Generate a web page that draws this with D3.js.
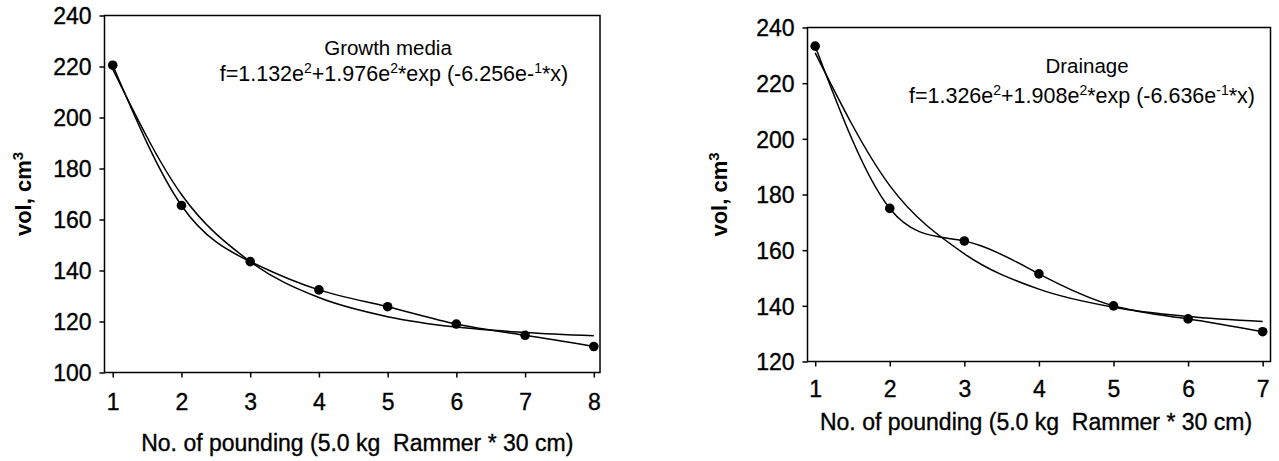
<!DOCTYPE html>
<html>
<head>
<meta charset="utf-8">
<script src="https://cdn.jsdelivr.net/npm/d3@7"></script>
<style>
  body { margin: 0; background: #fff; }
  text { font-family: "Liberation Sans", Arial, sans-serif; fill: #000; }
  .heavy { stroke: #000; stroke-width: 0.35px; }
</style>
</head>
<body>
<svg id="chart" width="1279" height="461"></svg>
<script>
// --- data ---
const poundingGrowth = [1, 2, 3, 4, 5, 6, 7, 8];
const volGrowth = [220.5, 165.5, 143.5, 132.4, 125.8, 119.0, 114.6, 110.2];
const fitGrowth = [219.0, 169.8, 143.5, 129.4, 121.9, 117.8, 115.7, 114.4];

const poundingDrainage = [1, 2, 3, 4, 5, 6, 7];
const volDrainage = [233.3, 175.0, 163.3, 151.5, 140.0, 135.3, 130.7];
const fitDrainage = [230.9, 183.2, 158.7, 146.0, 139.5, 136.2, 134.4];

const yTicksGrowth = [100, 120, 140, 160, 180, 200, 220, 240];
const yTicksDrainage = [120, 140, 160, 180, 200, 220, 240];

const xTitle = "No. of pounding (5.0 kg\u00a0 Rammer * 30 cm)";

const svg = d3.select("#chart");

// writes text pieces into a <text>, raising the {sup} pieces
function richText(sel, parts, supSize, lift) {
  let raised = false;
  parts.forEach(p => {
    const ts = sel.append("tspan");
    if (p.sup) {
      ts.attr("dy", raised ? 0 : -lift).style("font-size", supSize).text(p.sup);
      raised = true;
    } else {
      ts.attr("dy", raised ? lift : 0).text(p.t);
      raised = false;
    }
  });
}

function drawPanel(opts) {
  const { xs, vol, fit, yTicks, box, xDomain, label, formula } = opts;

  const x = d3.scaleLinear().domain(xDomain).range([box.left, box.right]);
  const y = d3.scaleLinear().domain([yTicks[0], yTicks[yTicks.length - 1]])
    .range([box.bottom, box.top]);

  const g = svg.append("g");

  // frame
  g.append("rect")
    .attr("x", box.left).attr("y", box.top)
    .attr("width", box.right - box.left).attr("height", box.bottom - box.top)
    .attr("fill", "none").attr("stroke", "#000").attr("stroke-width", 1.5);

  // y axis
  const yAxis = g.append("g")
    .attr("transform", `translate(${box.left},0)`)
    .call(d3.axisLeft(y).tickValues(yTicks).tickSize(5).tickPadding(8).tickFormat(d3.format("d")));
  yAxis.select(".domain").remove();
  yAxis.selectAll("line").attr("stroke-width", 1.5);
  yAxis.selectAll("text").attr("class", "heavy").style("font-size", "23px").attr("dy", "0.36em");

  // x axis
  const xAxis = g.append("g")
    .attr("transform", `translate(0,${box.bottom})`)
    .call(d3.axisBottom(x).tickValues(xs).tickSize(5).tickPadding(opts.xTickPad).tickFormat(d3.format("d")));
  xAxis.select(".domain").remove();
  xAxis.selectAll("line").attr("stroke-width", 1.5);
  xAxis.selectAll("text").attr("class", "heavy").style("font-size", "23px");

  // fitted exponential curve
  g.append("path")
    .datum(xs.map((d, i) => [d, fit[i]]))
    .attr("fill", "none").attr("stroke", "#000").attr("stroke-width", 1.5)
    .attr("d", d3.line().x(d => x(d[0])).y(d => y(d[1])).curve(d3.curveMonotoneX));

  // measured series, spline through the points
  g.append("path")
    .datum(xs.map((d, i) => [d, vol[i]]))
    .attr("fill", "none").attr("stroke", "#000").attr("stroke-width", 1.5)
    .attr("d", d3.line().x(d => x(d[0])).y(d => y(d[1])).curve(d3.curveNatural));

  g.selectAll("circle.pt")
    .data(xs.map((d, i) => [d, vol[i]]))
    .join("circle")
    .attr("class", "pt")
    .attr("cx", d => x(d[0])).attr("cy", d => y(d[1]))
    .attr("r", 4.8).attr("fill", "#000");

  // axis titles
  g.append("text")
    .attr("class", "heavy")
    .attr("x", (box.left + box.right) / 2 + opts.xTitleShift).attr("y", opts.xTitleY)
    .attr("text-anchor", "middle").style("font-size", "23px")
    .text(xTitle);

  const yt = g.append("text")
    .attr("transform", `translate(${opts.yTitleX},${(box.top + box.bottom) / 2}) rotate(-90)`)
    .attr("text-anchor", "middle").style("font-size", "22px").style("font-weight", "bold");
  richText(yt, [{ t: "vol, cm" }, { sup: "3" }], "15px", 8);

  // annotation
  g.append("text")
    .attr("x", label.x).attr("y", label.y)
    .attr("text-anchor", "middle").style("font-size", "20.5px")
    .text(label.text);

  const f = g.append("text")
    .attr("x", formula.x).attr("y", formula.y)
    .attr("text-anchor", "middle").style("font-size", "21.5px");
  richText(f, formula.parts, "14px", 8);
}

drawPanel({
  xs: poundingGrowth, vol: volGrowth, fit: fitGrowth, yTicks: yTicksGrowth,
  box: { left: 104.5, right: 600, top: 15.5, bottom: 372.5 },
  xDomain: [0.88, 8.09],
  xTickPad: 16, xTitleY: 451, xTitleShift: 5, yTitleX: 31,
  label: { text: "Growth media", x: 388, y: 55 },
  formula: { x: 394, y: 81, parts: [
    { t: "f=1.132e" }, { sup: "2" }, { t: "+1.976e" }, { sup: "2" },
    { t: "*exp (-6.256e-" }, { sup: "1" }, { t: "*x)" }
  ] }
});

drawPanel({
  xs: poundingDrainage, vol: volDrainage, fit: fitDrainage, yTicks: yTicksDrainage,
  box: { left: 807.5, right: 1270.5, top: 27.5, bottom: 361.5 },
  xDomain: [0.897, 7.105],
  xTickPad: 14, xTitleY: 430, xTitleShift: -3, yTitleX: 727,
  label: { text: "Drainage", x: 1087, y: 73 },
  formula: { x: 1082, y: 103, parts: [
    { t: "f=1.326e" }, { sup: "2" }, { t: "+1.908e" }, { sup: "2" },
    { t: "*exp (-6.636e" }, { sup: "-1" }, { t: "*x)" }
  ] }
});
</script>
</body>
</html>
